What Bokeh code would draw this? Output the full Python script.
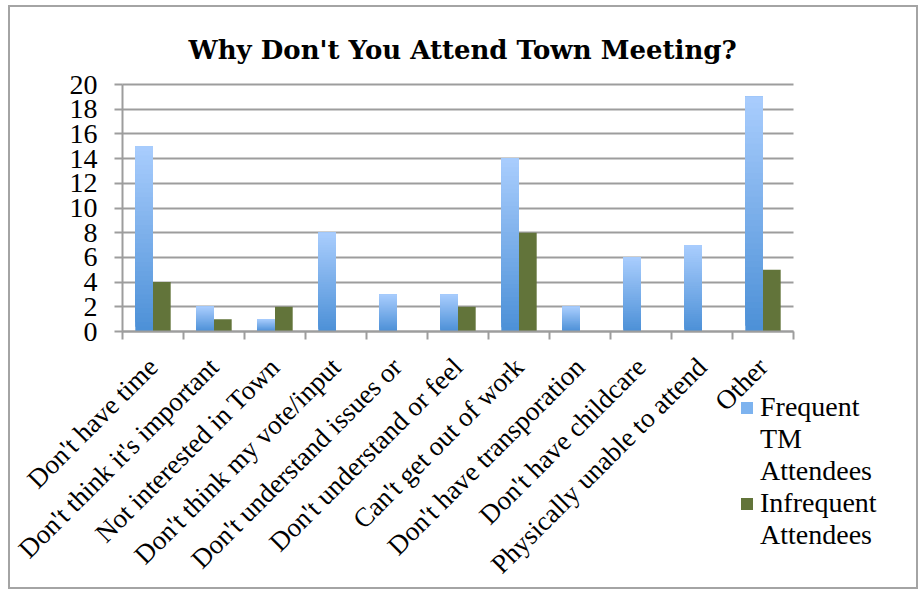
import numpy as np
from math import pi
from bokeh.plotting import figure
from bokeh.models import (Range1d, LinearAxis, FixedTicker, Grid, Legend, LegendItem)
from bokeh.embed import file_html
from bokeh.resources import INLINE

# ---- data ----
categories = ["Don't have time", "Don't think it's important", "Not interested in Town",
              "Don't think my vote/input", "Don't understand issues or",
              "Don't understand or feel", "Can't get out of work", "Don't have transporation",
              "Don't have childcare", "Physically unable to attend", "Other"]
frequent = [15, 2, 1, 8, 3, 3, 14, 2, 6, 7, 19]
infrequent = [4, 1, 2, 0, 0, 2, 8, 0, 0, 0, 5]
series_names = ["Frequent TM Attendees", "Infrequent Attendees"]
y_ticks = list(range(0, 21, 2))
title_text = "Why Don't You Attend Town Meeting?"

FONT = "Liberation Serif"
GRID = "#9d9d9d"
BW = 0.29
N = 40
top_c = np.array([0xA9, 0xCD, 0xFD], dtype=float)
bot_c = np.array([0x4C, 0x90, 0xD7], dtype=float)
GREEN = "#62743a"

ncat = len(categories)
ymax = max(y_ticks)

# layout (canvas pixels): chart area 671 x 247; frame extended on every side so that
# the axis labels and the legend, drawn inside the frame, are not clipped
W, H = 910, 584
TOP = 63
AX_W, AX_H = 671, 247
EXT_L, EXT_R, EXT_T = 112, 112, 14
EXT_B = H - TOP - EXT_T - AX_H
x_start = -ncat * EXT_L / AX_W
x_end = ncat * (AX_W + EXT_R) / AX_W
y_start = -ymax * EXT_B / AX_H
y_end = ymax + ymax * EXT_T / AX_H

p = figure(width=W, height=H, x_range=Range1d(x_start, x_end), y_range=Range1d(y_start, y_end),
           output_backend="svg", toolbar_location=None,
           x_axis_location=None, y_axis_location=None,
           min_border_left=0, min_border_right=W - EXT_L - AX_W - EXT_R,
           min_border_top=TOP, min_border_bottom=0,
           background_fill_color="white", border_fill_color="white")
p.outline_line_color = None
p.xgrid.visible = False
p.ygrid.visible = False
p.styles = {"border": "2px solid #a4a4a4", "margin-left": "8px", "margin-top": "5px"}

# title
p.title.text = title_text
p.title.text_font = "DejaVu Serif"
p.title.text_font_style = "bold"
p.title.text_font_size = "26px"
p.title.text_color = "black"
p.title.align = "left"
p.title.offset = 178
p.title.standoff = 11

# horizontal grid lines limited to the chart area
grid = Grid(dimension=1, ticker=FixedTicker(ticks=y_ticks), grid_line_color=GRID, grid_line_width=2)
try:
    grid.cross_bounds = (0, ncat)
    p.add_layout(grid)
except Exception:
    p.segment(x0=0, x1=ncat, y0=y_ticks, y1=y_ticks, line_color=GRID, line_width=2)

# blue gradient bars (stacked overlapping slices)
xs, bots, tops, cols = [], [], [], []
for i, v in enumerate(frequent):
    if v <= 0:
        continue
    for k in range(N):
        xs.append(i + 0.5 - BW / 2)
        bots.append(v * k / N)
        tops.append(v)
        c = bot_c + (top_c - bot_c) * (k + 0.5) / N
        cols.append("#%02x%02x%02x" % tuple(int(round(t)) for t in c))
p.vbar(x=xs, width=BW, bottom=bots, top=tops, fill_color=cols, line_color=None)

gx = [i + 0.5 + BW / 2 for i in range(ncat)]
p.vbar(x=gx, width=BW, bottom=0, top=infrequent, fill_color=GREEN, line_color=None)

# legend proxies (zero-height)
r1 = p.vbar(x=[0], width=BW, bottom=[0], top=[0], fill_color="#7db3ef", line_color=None)
r2 = p.vbar(x=[0], width=BW, bottom=[0], top=[0], fill_color=GREEN, line_color=None)
r0 = p.vbar(x=[0], width=BW, bottom=[0], top=[0], fill_alpha=0, line_color=None)

# y axis at x = 0
yax = LinearAxis(ticker=FixedTicker(ticks=y_ticks), fixed_location=0, bounds=(0, ymax))
yax.axis_line_color = GRID
yax.axis_line_width = 2
yax.major_tick_line_color = GRID
yax.major_tick_line_width = 2
yax.major_tick_out = 8
yax.major_tick_in = 0
yax.minor_tick_line_color = None
yax.major_label_text_font = FONT
yax.major_label_text_font_size = "28px"
yax.major_label_text_color = "black"
yax.major_label_standoff = 17
p.add_layout(yax, "left")

# x axis: boundary ticks at y = 0
bounds = list(range(ncat + 1))
xax1 = LinearAxis(ticker=FixedTicker(ticks=bounds), fixed_location=0, bounds=(0, ncat))
xax1.axis_line_color = GRID
xax1.axis_line_width = 2
xax1.major_tick_line_color = GRID
xax1.major_tick_line_width = 2
xax1.major_tick_out = 8
xax1.major_tick_in = 0
xax1.minor_tick_line_color = None
xax1.major_label_overrides = {b: "" for b in bounds}
xax1.major_label_standoff = 0
xax1.major_label_text_font_size = "1px"
p.add_layout(xax1, "below")

# x axis: category labels
centers = [i + 0.5 for i in range(ncat)]
xax2 = LinearAxis(ticker=FixedTicker(ticks=centers), fixed_location=0, bounds=(0, ncat))
xax2.axis_line_color = None
xax2.major_tick_line_color = None
xax2.major_tick_out = 0
xax2.major_tick_in = 0
xax2.minor_tick_line_color = None
xax2.major_label_overrides = {c: lab for c, lab in zip(centers, categories)}
xax2.major_label_orientation = pi / 4
xax2.major_label_text_font = FONT
xax2.major_label_text_font_size = "27px"
xax2.major_label_text_color = "black"
xax2.major_label_standoff = 31
p.add_layout(xax2, "below")

# legend: one item per wrapped line, swatch on the first line of each series
items = []
for name, rend in zip(series_names, [r1, r2]):
    for j, word in enumerate(name.split()):
        items.append(LegendItem(label=word, renderers=[rend if j == 0 else r0]))
legend = Legend(items=items, location=(EXT_L + 617, EXT_B - 220))
legend.label_text_font = FONT
legend.label_text_font_size = "28px"
legend.label_text_color = "black"
legend.label_height = 30
legend.label_text_baseline = "middle"
legend.glyph_width = 15
legend.glyph_height = 15
legend.label_standoff = 6
legend.padding = 0
legend.margin = 0
legend.spacing = 0
legend.border_line_color = None
legend.background_fill_alpha = 0
p.add_layout(legend, "center")

open("out.html", "w").write(file_html(p, INLINE))
